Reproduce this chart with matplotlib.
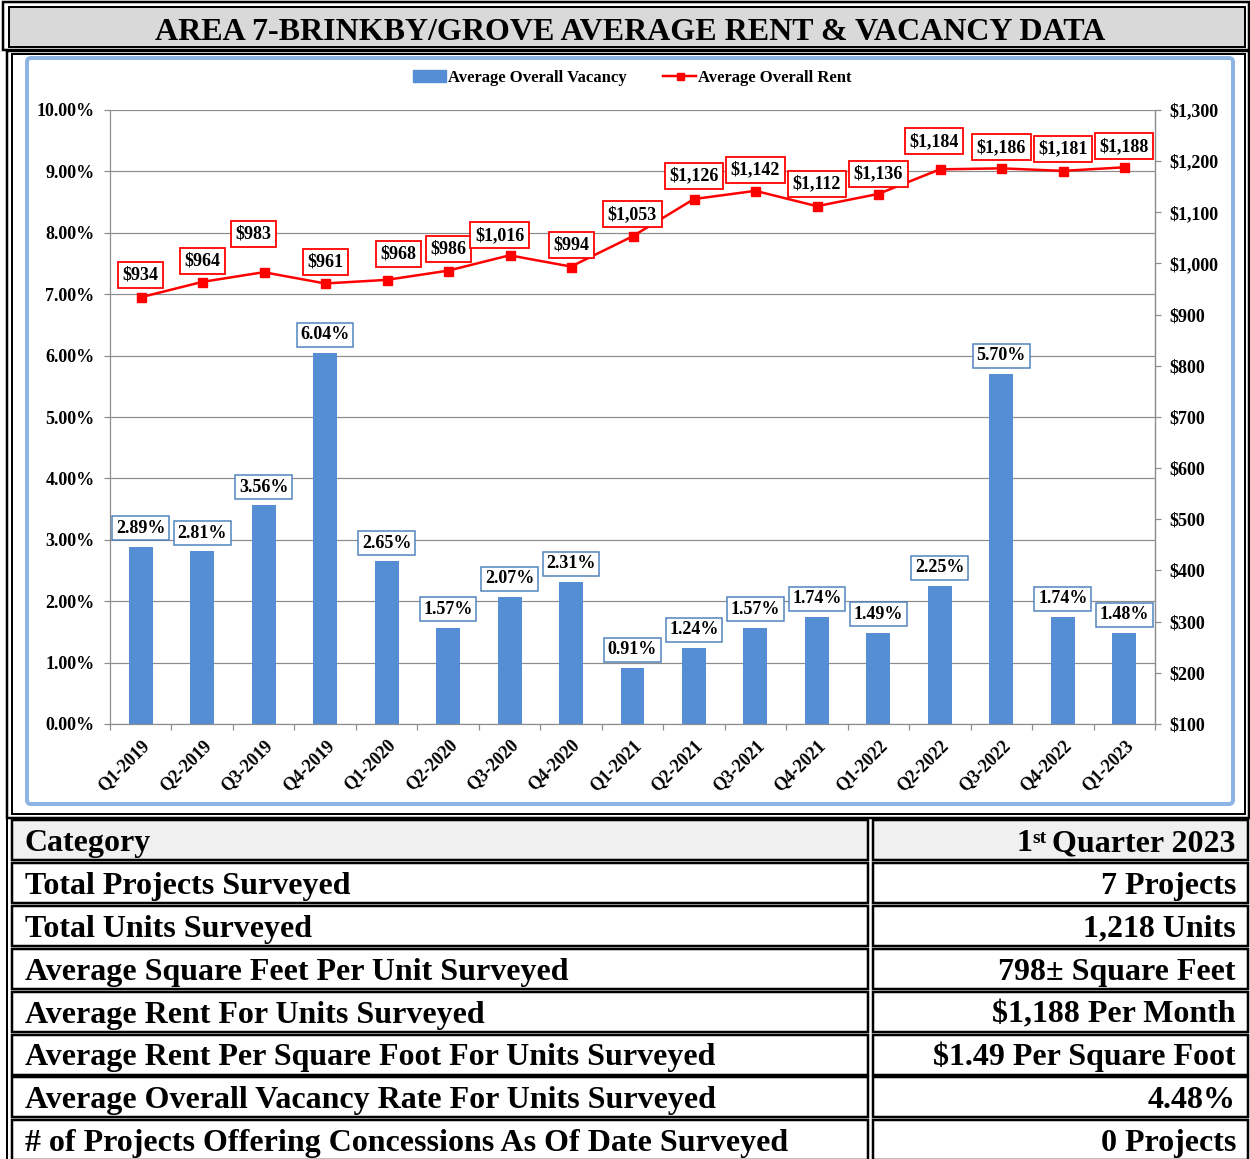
import matplotlib
matplotlib.use("Agg")
import matplotlib.pyplot as plt
from matplotlib.patches import Rectangle, FancyBboxPatch, Patch
from matplotlib.lines import Line2D
import numpy as np

plt.rcParams['font.family'] = ['Liberation Serif', 'DejaVu Serif']
plt.rcParams['font.weight'] = 'bold'
plt.rcParams['text.parse_math'] = False

# Chart data
quarters = ['Q1-2019', 'Q2-2019', 'Q3-2019', 'Q4-2019', 'Q1-2020', 'Q2-2020',
            'Q3-2020', 'Q4-2020', 'Q1-2021', 'Q2-2021', 'Q3-2021', 'Q4-2021',
            'Q1-2022', 'Q2-2022', 'Q3-2022', 'Q4-2022', 'Q1-2023']
vacancy = [2.89, 2.81, 3.56, 6.04, 2.65, 1.57, 2.07, 2.31, 0.91,
           1.24, 1.57, 1.74, 1.49, 2.25, 5.70, 1.74, 1.48]
rent = [934, 964, 983, 961, 968, 986, 1016, 994, 1053,
        1126, 1142, 1112, 1136, 1184, 1186, 1181, 1188]

# Rent label offsets (pixels) as placed in the original
rent_dx = [0, 0, -10, 0, 12, 0, -10, 0, 0, 0, 0, 0, 0, -6, 0, 0, 0]
rent_dy = [22, 21, 38, 21, 26, 22, 20, 22, 22, 23, 21, 22, 20, 28, 21, 22, 21]

# Table data
categories = ['Category', 'Total Projects Surveyed', 'Total Units Surveyed',
              'Average Square Feet Per Unit Surveyed',
              'Average Rent For Units Surveyed',
              'Average Rent Per Square Foot For Units Surveyed',
              'Average Overall Vacancy Rate For Units Surveyed',
              '# of Projects Offering Concessions As Of Date Surveyed']
values = ['Quarter 2023', '7 Projects', '1,218 Units', '798\u00b1 Square Feet',
          '$1,188 Per Month', '$1.49 Per Square Foot', '4.48%', '0 Projects']

title = 'AREA 7-BRINKBY/GROVE AVERAGE RENT & VACANCY DATA'

W, H = 1250, 1159
fig = plt.figure(figsize=(W / 100, H / 100), dpi=100)
px = 0.72  # points per pixel

# Background frame in pixel coordinates
bg = fig.add_axes([0, 0, 1, 1], zorder=-1)
bg.set_xlim(0, W)
bg.set_ylim(H, 0)
bg.axis('off')

def box(x0, y0, x1, y1, fc='none', ec='black', lw=2):
    bg.add_patch(Rectangle((x0, y0), x1 - x0, y1 - y0, fc=fc, ec=ec, lw=lw * px))

# title band
box(3, 2, 1249, 50, lw=2.5)
box(9, 7, 1245, 47, fc='#D9D9D9', lw=2)
bg.text(630, 40, title, ha='center', va='baseline', fontsize=23, fontweight='bold')

# chart panel
box(7, 51, 1249, 818, lw=2.5)
box(12, 54, 1245, 814, lw=2)
bg.add_patch(FancyBboxPatch((27, 58), 1206, 746, boxstyle='round,pad=0,rounding_size=4',
                            fc='white', ec='#8EB4E3', lw=4 * px))

# table
row_tops = [820 + i * 42.9 for i in range(len(categories))]
for i, (cat, val) in enumerate(zip(categories, values)):
    top = row_tops[i]
    bot = top + 40
    fill = '#F0F0F0' if i == 0 else 'white'
    box(12, top, 868, bot, fc=fill, lw=2.5)
    box(873, top, 1248, bot, fc=fill, lw=2.5)
    bg.text(25, bot - 9, cat, ha='left', va='baseline', fontsize=23, fontweight='bold')
    t = bg.text(1236, bot - 9, val, ha='right', va='baseline', fontsize=23, fontweight='bold')
    if i == 0:
        st = bg.annotate('st', xy=(0, 1), xycoords=t, xytext=(-4, -1), textcoords='offset points',
                         ha='right', va='top', fontsize=14, fontweight='bold')
        bg.annotate('1', xy=(0, 0), xycoords=(st, t), ha='right', va='bottom',
                    fontsize=23, fontweight='bold')
bg.plot([7, 7], [818, H], color='black', lw=2 * px)

# main chart
ax = fig.add_axes([110 / W, 1 - 724 / H, 1045 / W, 614 / H])
x = np.arange(len(quarters))
bar_color = '#558ED5'
ax.bar(x, vacancy, width=0.39, color=bar_color, zorder=2)
ax.set_xlim(-0.5, len(quarters) - 0.5)
ax.set_ylim(0, 10)
ax.set_yticks(np.arange(0, 11, 1))
ax.set_yticklabels(['%.2f%%' % v for v in np.arange(0, 11, 1)], fontsize=13, fontweight='bold')
ax.yaxis.grid(True, color='#8C8C8C', lw=1.2 * px, zorder=0)
ax.set_axisbelow(True)
ax.set_xticks(x)
ax.set_xticklabels(quarters, rotation=45, ha='right', rotation_mode='anchor',
                   fontsize=13, fontweight='bold')
ax.tick_params(axis='x', length=0, pad=9)
ax.set_xticks(np.arange(-0.5, len(quarters), 1), minor=True)
ax.tick_params(axis='x', which='minor', length=4.5, color='#8C8C8C', width=1.2 * px)
ax.tick_params(axis='y', length=4, color='#8C8C8C', width=1.2 * px, pad=7)
ax.spines['top'].set_visible(False)
for s in ['left', 'bottom', 'right']:
    ax.spines[s].set_color('#8C8C8C')
    ax.spines[s].set_linewidth(1.2 * px)

for i, v in enumerate(vacancy):
    ax.annotate('%.2f%%' % v, xy=(i, v), xytext=(0, 7), textcoords='offset points',
                ha='center', va='bottom', fontsize=13, fontweight='bold', zorder=5,
                bbox=dict(boxstyle='square,pad=0.2', fc='white', ec='#4F81BD', lw=1.5 * px))

ax2 = ax.twinx()
ax2.set_ylim(100, 1300)
ax2.set_yticks(np.arange(100, 1301, 100))
ax2.set_yticklabels(['${:,}'.format(v) for v in range(100, 1301, 100)], fontsize=13, fontweight='bold')
ax2.tick_params(axis='y', length=4, color='#8C8C8C', width=1.2 * px, pad=6)
for s in ['top', 'left', 'bottom']:
    ax2.spines[s].set_visible(False)
ax2.spines['right'].set_color('#8C8C8C')
ax2.spines['right'].set_linewidth(1.2 * px)
ax2.plot(x, rent, color='red', lw=2.5 * px, marker='s', markersize=9 * px, zorder=3)

for i, v in enumerate(rent):
    ax2.annotate('${:,}'.format(v), xy=(i, v), xytext=(rent_dx[i] * px, rent_dy[i] * px),
                 textcoords='offset points', ha='center', va='center', fontsize=13,
                 fontweight='bold', zorder=5,
                 bbox=dict(boxstyle='square,pad=0.25', fc='white', ec='red', lw=1.8 * px))

handles = [Patch(color=bar_color), Line2D([], [], color='red', lw=2.5 * px, marker='s', markersize=7 * px)]
fig.legend(handles, ['Average Overall Vacancy', 'Average Overall Rent'], loc='center',
           bbox_to_anchor=(632 / W, 1 - 78 / H), ncol=2, frameon=False,
           prop={'size': 12, 'weight': 'bold'}, handlelength=2.0, columnspacing=2.2, handletextpad=0.1)

fig.savefig('out.png', dpi=100)
